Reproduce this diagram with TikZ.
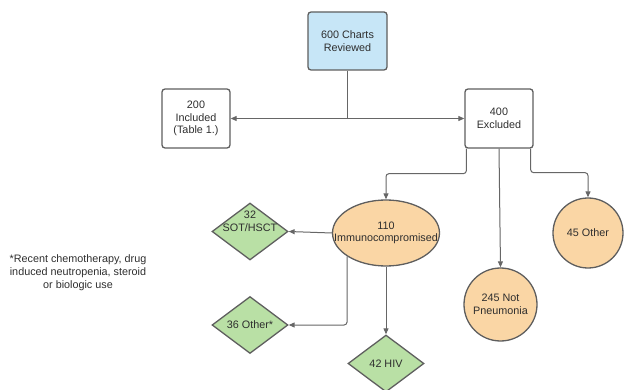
\documentclass[tikz,border=0pt]{standalone}
\usepackage{fontspec}
\setmainfont{Liberation Sans}
\usetikzlibrary{shapes.geometric,arrows.meta}
\definecolor{bluefill}{RGB}{199,230,247}
\definecolor{orangefill}{RGB}{250,214,165}
\definecolor{greenfill}{RGB}{185,224,165}
\definecolor{edgegray}{RGB}{94,94,94}
\definecolor{linegray}{RGB}{102,102,102}
\begin{document}
\begin{tikzpicture}[x=1pt,y=-1pt,
  every node/.style={font=\fontsize{10.8}{12.6}\selectfont, text=black!82, align=center},
  boxnode/.style={draw=edgegray, line width=1.3pt, rounded corners=3pt, minimum width=68pt, minimum height=59pt, inner sep=1pt},
  ovalnode/.style={draw=edgegray, line width=1.3pt, fill=orangefill, ellipse, minimum width=107pt, minimum height=66pt, inner sep=0pt},
  circnode/.style={draw=edgegray, line width=1.3pt, fill=orangefill, circle, inner sep=1pt},
  dianode/.style={draw=edgegray, line width=1.3pt, fill=greenfill, diamond, minimum width=76pt, minimum height=57pt, inner sep=0pt},
  arr/.style={draw=linegray, line width=1pt, rounded corners=3pt, -{Triangle[length=6pt,width=5pt]}},
  conn/.style={draw=linegray, line width=1pt, rounded corners=3pt}]
\useasboundingbox (0,0) rectangle (624,390);
% nodes
\node[boxnode, fill=bluefill, minimum width=79pt, minimum height=58pt] (top) at (347.5,41) {600 Charts\\Reviewed};
\node[boxnode] (inc) at (196,118.5) {200\\Included\\(Table 1.)};
\node[boxnode] (exc) at (499,118.5) {400\\Excluded};
\node[ovalnode, label={[name=immtext, font=\fontsize{10.8}{12.6}\selectfont]center:{110\\Immunocompromised}}] (imm) at (386,233) {};
\node[circnode, minimum size=73pt] (np) at (500.5,304.5) {245 Not\\Pneumonia};
\node[circnode, minimum size=70pt] (oth) at (588,233) {45 Other};
\node[dianode, label={[name=sottext, yshift=10pt, font=\fontsize{10.8}{12.6}\selectfont]center:{32\\SOT/HSCT}}] (sot) at (250,231.5) {};
\node[dianode] (oth36) at (250,325) {36 Other*};
\node[dianode] (hiv) at (386,363.5) {42 HIV};
\node[font=\fontsize{10.8}{13.2}\selectfont] (note) at (78,273) {*Recent chemotherapy, drug\\induced neutropenia, steroid\\or biologic use};
% connectors
\coordinate (split) at (top.south |- inc.east);
\draw[conn] (top.south) -- (split);
\draw[arr] (split) -- (inc.east);
\draw[arr] (split) -- (exc.west);
\draw[arr] ([xshift=2pt]exc.south west) -- ++(0,25) -| (imm.north);
\draw[arr] (exc.south) -- (np.north);
\draw[arr] ([xshift=-3pt]exc.south east) -- ++(0,24) -| (oth.north);
\draw[arr] (imm.west) -- (sot.east);
\draw[arr] (imm.211) |- (oth36.east);
\draw[arr] (imm.south) -- (hiv.north);
\end{tikzpicture}
\end{document}
